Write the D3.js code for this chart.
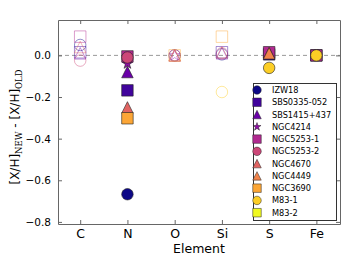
<!DOCTYPE html>
<html>
<head>
<meta charset="utf-8">
<script src="https://cdn.jsdelivr.net/npm/d3@7"></script>
<style>
  body { margin: 0; background: #fff; }
  svg { display: block; }
</style>
</head>
<body>
<svg id="chart"></svg>
<script>
WIDTH = 363
HEIGHT = 258

// categories on the x axis
elements = ["C", "N", "O", "Si", "S", "Fe"];
// elements drawn as hollow markers
hollow = ["C", "O", "Si"];
yTicks = [0.0, -0.2, -0.4, -0.6, -0.8];

galaxies = ["IZW18", "SBS0335-052", "SBS1415+437", "NGC4214", "NGC5253-1", "NGC5253-2",
            "NGC4670", "NGC4449", "NGC3690", "M83-1", "M83-2"];
colors = ["#0d0887", "#41049d", "#6a00a8", "#8f0da4", "#b12a90", "#cc4778",
          "#e16462", "#f2844b", "#fca636", "#fcce25", "#f0f921"];
shapes = ["circle", "square", "triangle", "star", "square", "circle",
          "triangle", "triangle", "square", "circle", "square"];

// [X/H]new - [X/H]old for C, N, O, Si, S, Fe (null = no point)
izw18      = [0.05, -0.667, 0.0, 0.005, null, null];
sbs0335    = [0.015, -0.168, null, 0.015, 0.005, 0.0];
sbs1415    = [0.01, -0.08, 0.0, 0.01, null, null];
ngc4214    = [null, -0.04, 0.0, null, null, null];
ngc5253_1  = [0.09, -0.005, null, null, 0.015, 0.0];
ngc5253_2  = [-0.025, -0.01, 0.0, 0.01, null, null];
ngc4670    = [0.04, -0.25, 0.0, 0.015, 0.01, null];
ngc4449    = [null, null, 0.0, null, 0.01, null];
ngc3690    = [null, -0.302, 0.0, 0.09, null, null];
m83_1      = [null, null, null, -0.176, -0.06, 0.0];
m83_2      = [null, null, null, null, null, null];

values = [izw18, sbs0335, sbs1415, ngc4214, ngc5253_1, ngc5253_2,
          ngc4670, ngc4449, ngc3690, m83_1, m83_2];

function markerPath(shape, ms) {
    var h = ms / 2;
    var p = d3.path();
    if (shape === "circle") {
        p.arc(0, 0, h, 0, 2 * Math.PI);
    } else if (shape === "square") {
        p.rect(-h, -h, ms, ms);
    } else if (shape === "triangle") {
        p.moveTo(0, -h); p.lineTo(h, h); p.lineTo(-h, h); p.closePath();
    } else {
        // 5 point star like matplotlib '*'
        for (var k = 0; k < 10; k++) {
            var r = k % 2 === 0 ? h : h * 0.381966;
            var a = -Math.PI / 2 + k * Math.PI / 5;
            if (k === 0) p.moveTo(r * Math.cos(a), r * Math.sin(a));
            else p.lineTo(r * Math.cos(a), r * Math.sin(a));
        }
        p.closePath();
    }
    return p.toString();
}

var svg = d3.select("#chart").attr("width", WIDTH).attr("height", HEIGHT);

var x = d3.scaleLinear().domain([-0.47, 5.5]).range([58, 340]);
var y = d3.scaleLinear().domain([-0.81, 0.17]).range([224, 20]);

var spine = "#666";

// zero line
svg.append("line")
    .attr("x1", x.range()[0]).attr("x2", x.range()[1])
    .attr("y1", y(0)).attr("y2", y(0))
    .attr("stroke", "#999").attr("stroke-width", 1)
    .attr("stroke-dasharray", "4,3");

// points, galaxy by galaxy
var ms = 11.5;
values.forEach(function (vals, gi) {
    var pts = vals.map(function (v, ei) { return { v: v, el: elements[ei], i: ei }; })
        .filter(function (d) { return d.v !== null; });
    svg.append("g").selectAll("path")
        .data(pts)
        .enter().append("path")
        .attr("d", markerPath(shapes[gi], ms))
        .attr("transform", function (d) { return "translate(" + x(d.i) + "," + y(d.v) + ")"; })
        .attr("fill", function (d) { return hollow.includes(d.el) ? "none" : colors[gi]; })
        .attr("stroke", function (d) { return hollow.includes(d.el) ? colors[gi] : "#222"; })
        .attr("stroke-opacity", function (d) { return hollow.includes(d.el) ? 0.45 : 1; })
        .attr("stroke-width", function (d) { return hollow.includes(d.el) ? 1 : 0.6; });
});

// axes, ticks pointing in on all four sides
function styleAxis(g) {
    g.select(".domain").attr("stroke", spine);
    g.selectAll(".tick line").attr("stroke", spine);
    g.selectAll(".tick text").attr("fill", "#000");
}

svg.append("g")
    .attr("transform", "translate(0," + 224 + ")")
    .call(d3.axisBottom(x).tickValues(d3.range(elements.length))
        .tickFormat(function (i) { return elements[i]; })
        .tickSizeInner(-4).tickSizeOuter(0).tickPadding(5))
    .call(styleAxis)
    .selectAll("text").attr("font-family", "DejaVu Sans").attr("font-size", 12.5);

svg.append("g")
    .attr("transform", "translate(0," + 20 + ")")
    .call(d3.axisTop(x).tickValues(d3.range(elements.length)).tickFormat("")
        .tickSizeInner(-4).tickSizeOuter(0))
    .call(styleAxis);

svg.append("g")
    .attr("transform", "translate(" + 58 + ",0)")
    .call(d3.axisLeft(y).tickValues(yTicks).tickFormat(d3.format(".1f"))
        .tickSizeInner(-4).tickSizeOuter(0).tickPadding(7))
    .call(styleAxis)
    .selectAll("text").attr("font-family", "DejaVu Sans").attr("font-size", 10.5);

svg.append("g")
    .attr("transform", "translate(" + 340 + ",0)")
    .call(d3.axisRight(y).tickValues(yTicks).tickFormat("")
        .tickSizeInner(-4).tickSizeOuter(0))
    .call(styleAxis);

// axis titles
svg.append("text")
    .attr("x", 199).attr("y", 253)
    .attr("text-anchor", "middle")
    .attr("font-family", "DejaVu Sans").attr("font-size", 12.5)
    .text("Element");

var yl = svg.append("text")
    .attr("transform", "translate(19,127) rotate(-90)")
    .attr("text-anchor", "middle")
    .attr("font-family", "DejaVu Sans").attr("font-size", 12);
yl.append("tspan").text("[X/H]");
yl.append("tspan").attr("dy", 3).attr("font-family", "DejaVu Serif").attr("font-size", 8.5).text("NEW");
yl.append("tspan").attr("dy", -3).text(" - [X/H]");
yl.append("tspan").attr("dy", 3).attr("font-family", "DejaVu Serif").attr("font-size", 8.5).text("OLD");

// legend
var legend = svg.append("g");
legend.append("rect")
    .attr("x", 253.5).attr("y", 83.5).attr("width", 83).attr("height", 137)
    .attr("fill", "#fff").attr("stroke", "#333").attr("stroke-width", 1);

var rowY = d3.scaleLinear().domain([0, galaxies.length - 1]).range([90, 212.7]);
var rows = legend.selectAll("g.row")
    .data(galaxies)
    .enter().append("g")
    .attr("class", "row")
    .attr("transform", function (d, i) { return "translate(0," + rowY(i) + ")"; });
rows.append("path")
    .attr("d", function (d, i) { return markerPath(shapes[i], 8.5); })
    .attr("transform", "translate(257,0)")
    .attr("fill", function (d, i) { return colors[i]; })
    .attr("stroke", "#222").attr("stroke-width", 0.5);
rows.append("text")
    .attr("x", 272).attr("y", 3)
    .attr("font-family", "DejaVu Sans").attr("font-size", 8.2)
    .text(function (d) { return d; });
</script>
</body>
</html>
